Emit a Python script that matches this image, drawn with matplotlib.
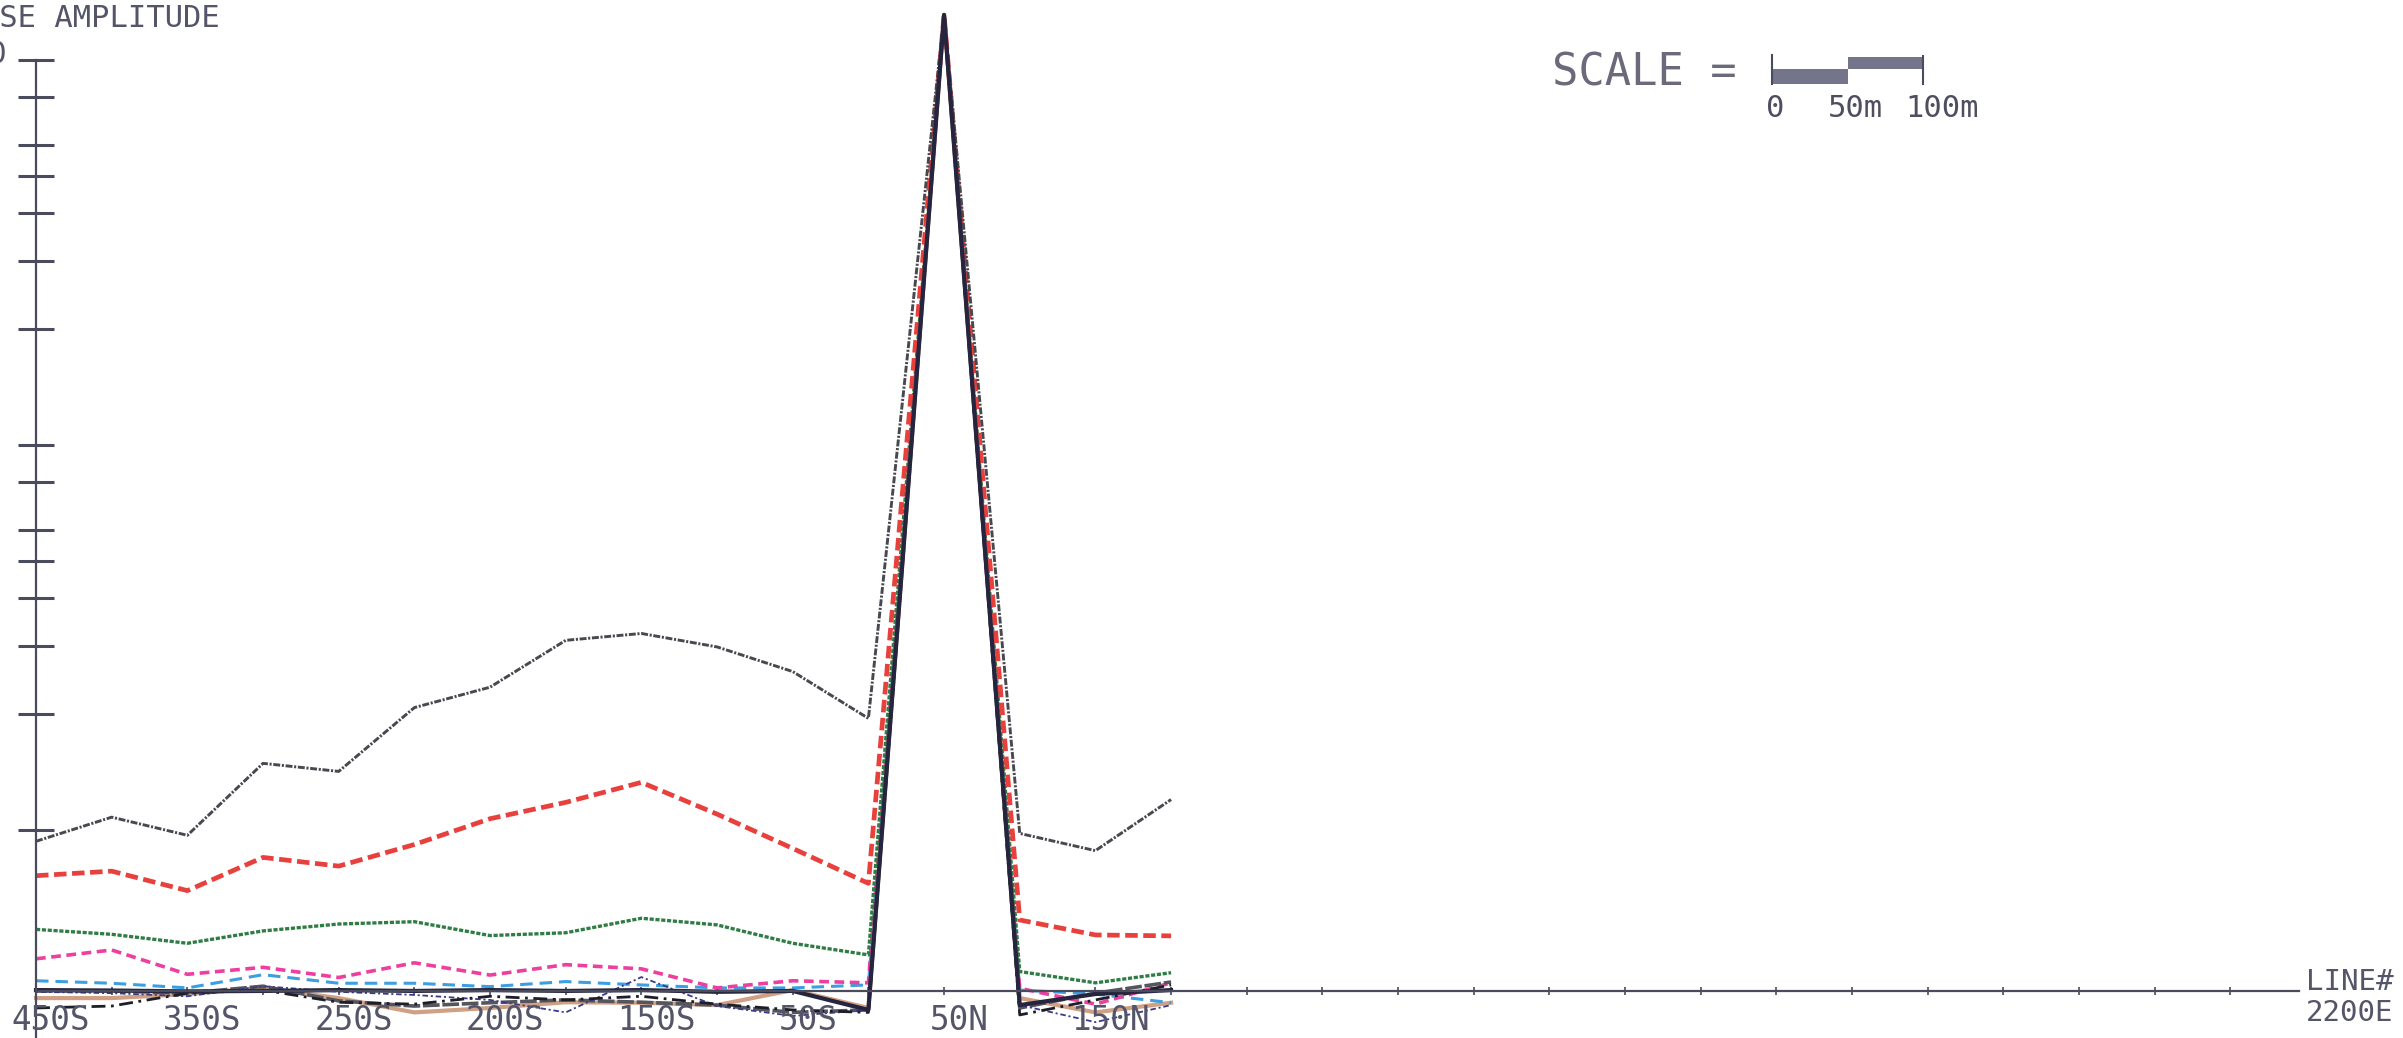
import numpy as np
import matplotlib
matplotlib.use("Agg")
import matplotlib.pyplot as plt
from matplotlib.patches import Rectangle
from matplotlib.ticker import NullLocator

plt.rcParams['lines.scale_dashes'] = False
plt.rcParams['font.family'] = ['DejaVu Sans Mono']

# stations along line 2200E, 50 m apart (index 0 = 450S)
stations = np.arange(16)
label_stations = [0, 2, 4, 6, 8, 10, 12, 14]
station_labels = ['450S', '350S', '250S', '200S', '150S', '50S', '50N', '150N']

# response amplitude per channel (log scale)
ch_gray = [0.0935, 0.108, 0.0969, 0.149, 0.142, 0.208, 0.235, 0.311, 0.324, 0.299, 0.258, 0.195, 13.1, 0.098, 0.0884, 0.120]
ch_red = [0.0761, 0.0782, 0.0696, 0.0849, 0.0806, 0.0917, 0.107, 0.118, 0.133, 0.110, 0.0896, 0.0727, 13.1, 0.0584, 0.0534, 0.0531]
ch_green = [0.0552, 0.0536, 0.0508, 0.0547, 0.0570, 0.0578, 0.0532, 0.0541, 0.0590, 0.0567, 0.0508, 0.0474, 13.1, 0.0429, 0.0401, 0.0426]
ch_magenta = [0.0463, 0.0488, 0.0422, 0.0440, 0.0414, 0.0452, 0.0420, 0.0447, 0.0436, 0.0389, 0.0406, 0.0401, 13.1, 0.0388, 0.0353, 0.0401]
ch_blue = [0.0406, 0.0400, 0.0389, 0.0421, 0.0400, 0.0400, 0.0392, 0.0404, 0.0396, 0.0389, 0.0389, 0.0396, 13.1, 0.0384, 0.0375, 0.0356]
ch_navy_dot = [0.0380, 0.0377, 0.0370, 0.0393, 0.0380, 0.0373, 0.0362, 0.0336, 0.0415, 0.0349, 0.0329, 0.0341, 13.1, 0.0351, 0.0317, 0.0351]
ch_darkgray = [0.0382, 0.0382, 0.0377, 0.0393, 0.0360, 0.0349, 0.0356, 0.0362, 0.0357, 0.0351, 0.0336, 0.0341, 13.1, 0.0345, 0.0377, 0.0403]
ch_tan = [0.0366, 0.0366, 0.0375, 0.0389, 0.0366, 0.0336, 0.0345, 0.0357, 0.0356, 0.0351, 0.0384, 0.0345, 13.1, 0.0366, 0.0336, 0.0356]
ch_black = [0.0345, 0.0349, 0.0377, 0.0384, 0.0357, 0.0353, 0.0370, 0.0362, 0.0370, 0.0353, 0.0341, 0.0336, 13.1, 0.0331, 0.0362, 0.0396]
ch_navy = [0.0384, 0.0383, 0.0381, 0.0382, 0.0384, 0.0382, 0.0384, 0.0382, 0.0384, 0.0380, 0.0382, 0.0341, 13.1, 0.0351, 0.0375, 0.0384]

y_ticks = [0.1, 0.2, 0.3, 0.4, 0.5, 0.6, 0.8, 1, 2, 3, 4, 5, 6, 8, 10]
baseline = 0.0382   # level where the station axis is drawn

axis_color = '#4b4b5e'
text_color = '#55556a'

fig = plt.figure(figsize=(24.03, 10.38), dpi=100)
ax = fig.add_axes([0, 0, 1, 1])
ax.set_yscale('log')
ax.set_xlim(-0.476, 31.28)
ax.set_ylim(0.02883, 14.32)

# channels, lowest first so the dark ones end on top at the peak
ax.plot(stations, ch_tan, color='#c8906e', lw=3.0, alpha=0.85)
ax.plot(stations, ch_blue, color='#3d9ee0', lw=2.2, dashes=(9, 5))
ax.plot(stations, ch_magenta, color='#ec3fa0', lw=2.6, dashes=(7, 4))
ax.plot(stations, ch_green, color='#2f7d45', lw=2.4, dashes=(3, 1.2))
ax.plot(stations, ch_red, color='#e8403c', lw=3.4, dashes=(9, 4))
ax.plot(stations, ch_gray, color='#48484f', lw=2.1, dashes=(5, 1.2, 1.5, 1.2))
ax.plot(stations, ch_darkgray, color='#55555e', lw=2.6, dashes=(12, 2))
ax.plot(stations, ch_navy_dot, color='#3a3a8a', lw=1.3, dashes=(1.5, 2, 4, 2))
ax.plot(stations, ch_black, color='#1e1e28', lw=2.0, dashes=(10, 4, 2, 4))
ax.plot(stations, ch_navy, color='#25253f', lw=3.0)

# axes drawn like the plotter output
for side in ['top', 'right']:
    ax.spines[side].set_visible(False)
ax.spines['left'].set_position(('data', 0))
ax.spines['left'].set_bounds(0.02883, 10)
ax.spines['bottom'].set_position(('data', baseline))
ax.spines['bottom'].set_bounds(0, 29.9)
for side in ['left', 'bottom']:
    ax.spines[side].set_color(axis_color)
    ax.spines[side].set_linewidth(1.6)

ax.set_yticks(y_ticks)
ax.yaxis.set_minor_locator(NullLocator())
ax.tick_params(axis='y', direction='inout', length=26, width=2.2, color=axis_color, labelleft=False)
ax.set_xticks(np.arange(0, 30))
ax.xaxis.set_minor_locator(NullLocator())
ax.tick_params(axis='x', direction='inout', length=6, width=1.2, color=axis_color, labelbottom=False)

tr = ax.get_xaxis_transform()
for st, lab in zip(label_stations, station_labels):
    ax.text(st + 0.2, 0.008, lab, transform=tr, ha='center', va='baseline',
            fontsize=23.5, color=text_color)

ax.text(30.0, 0.0462, 'LINE#', transform=tr, ha='left', va='baseline', fontsize=21, color=text_color)
ax.text(30.0, 0.0164, '2200E', transform=tr, ha='left', va='baseline', fontsize=21, color=text_color)

# y label and top value, partly cut by the page edge
ax.text(-1.94, 0.974, 'RESPONSE AMPLITUDE', transform=tr, ha='left', va='baseline',
        fontsize=22, color=text_color)
ax.text(-0.383, 0.9393, '10', transform=tr, ha='right', va='baseline', fontsize=22, color=text_color)

# scale bar (one station = 50 m)
ax.text(20.03, 0.9181, 'SCALE =', transform=tr, ha='left', va='baseline', fontsize=31.5, color='#6a6a7c')
bar_color = '#74748a'
ax.add_patch(Rectangle((22.94, 0.9191), 1.0, 0.0141, transform=tr, color=bar_color, lw=0))
ax.add_patch(Rectangle((23.94, 0.9332), 1.0, 0.0122, transform=tr, color=bar_color, lw=0))
ax.plot([22.94, 22.94], [0.919, 0.947], transform=tr, color=axis_color, lw=1.5)
ax.plot([24.94, 24.94], [0.919, 0.946], transform=tr, color=axis_color, lw=1.5)
for xs, lab in zip([22.98, 24.04, 25.19], ['0', '50m', '100m']):
    ax.text(xs, 0.887, lab, transform=tr, ha='center', va='baseline', fontsize=22, color='#4e4e60')

fig.savefig('out.png', dpi=100, facecolor='white')
